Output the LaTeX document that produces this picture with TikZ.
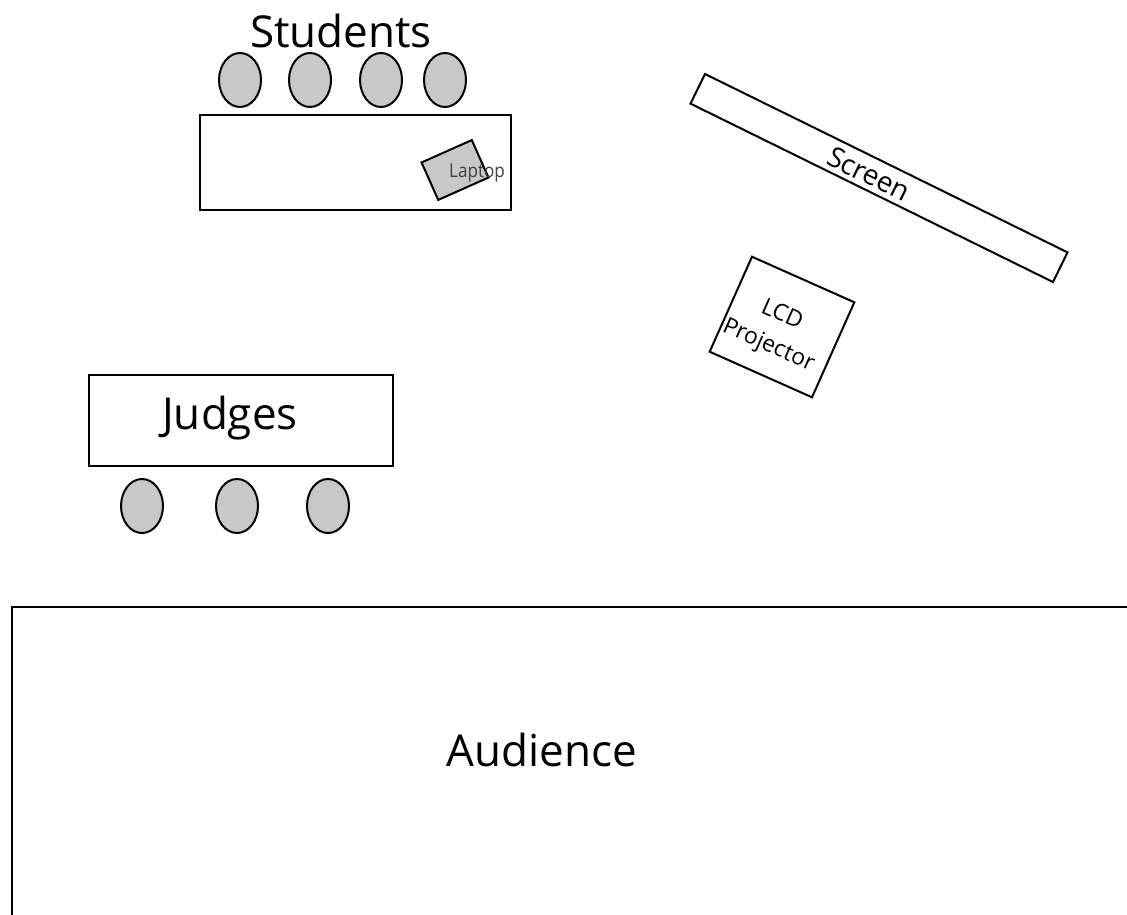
\documentclass[tikz,border=0pt]{standalone}
\usepackage{fontspec}
\setmainfont{Open Sans}
\usetikzlibrary{shapes.geometric}
\definecolor{seat}{HTML}{C8C8C8}
\tikzset{
  obj/.style={draw=black, line width=2pt, rectangle, inner sep=0pt},
  chair/.style={draw=black, line width=2pt, ellipse, fill=seat, minimum width=42pt, minimum height=54pt, inner sep=0pt},
  big/.style={font=\fontsize{44}{48}\selectfont},
}
\begin{document}
\begin{tikzpicture}[x=1pt,y=-1pt]
\useasboundingbox (0,0) rectangle (1127,915);
\clip (0,0) rectangle (1127,915);
\fill[white] (0,0) rectangle (1127,915);
% Students
\node[big] (studentslabel) at (341,31) {Students};
\node[chair] (s1) at (240,80) {};
\node[chair] (s2) at (310,80) {};
\node[chair] (s3) at (381,80) {};
\node[chair] (s4) at (445,80) {};
\node[obj, minimum width=311pt, minimum height=95pt] (stable) at (355.5,162.5) {};
\node[obj, fill=seat, minimum width=55pt, minimum height=41pt, rotate=24] (laptop) at (455,170) {};
\node[font=\fontsize{19}{20}\selectfont, text=black!75, inner sep=0pt, xscale=0.9] (laptoplabel) at (477,173) {Laptop};
% Screen
\node[obj, minimum width=404pt, minimum height=33pt, rotate=-26.2] (screen) at (879,178) {};
\node[font=\fontsize{28}{30}\selectfont, rotate=-26.2, inner sep=0pt] (screenlabel) at (869,174) {Screen};
% Projector
\node[obj, minimum width=112pt, minimum height=104pt, rotate=-24] (projector) at (782,327) {};
\node[align=center, rotate=-24, inner sep=0pt, font=\fontsize{23}{33}\selectfont] (projectorlabel) at (775,331) {LCD\\Projector};
% Judges
\node[obj, minimum width=304pt, minimum height=91pt] (jtable) at (241,420.5) {};
\node[big] (judgeslabel) at (230,418) {Judges};
\node[chair] (j1) at (142,506) {};
\node[chair] (j2) at (237,506) {};
\node[chair] (j3) at (328,506) {};
% Audience
\node[obj, minimum width=1140pt, minimum height=330pt, anchor=north west] (audience) at (11,606) {};
\node[big] (audiencelabel) at (542,750) {Audience};
\end{tikzpicture}
\end{document}
